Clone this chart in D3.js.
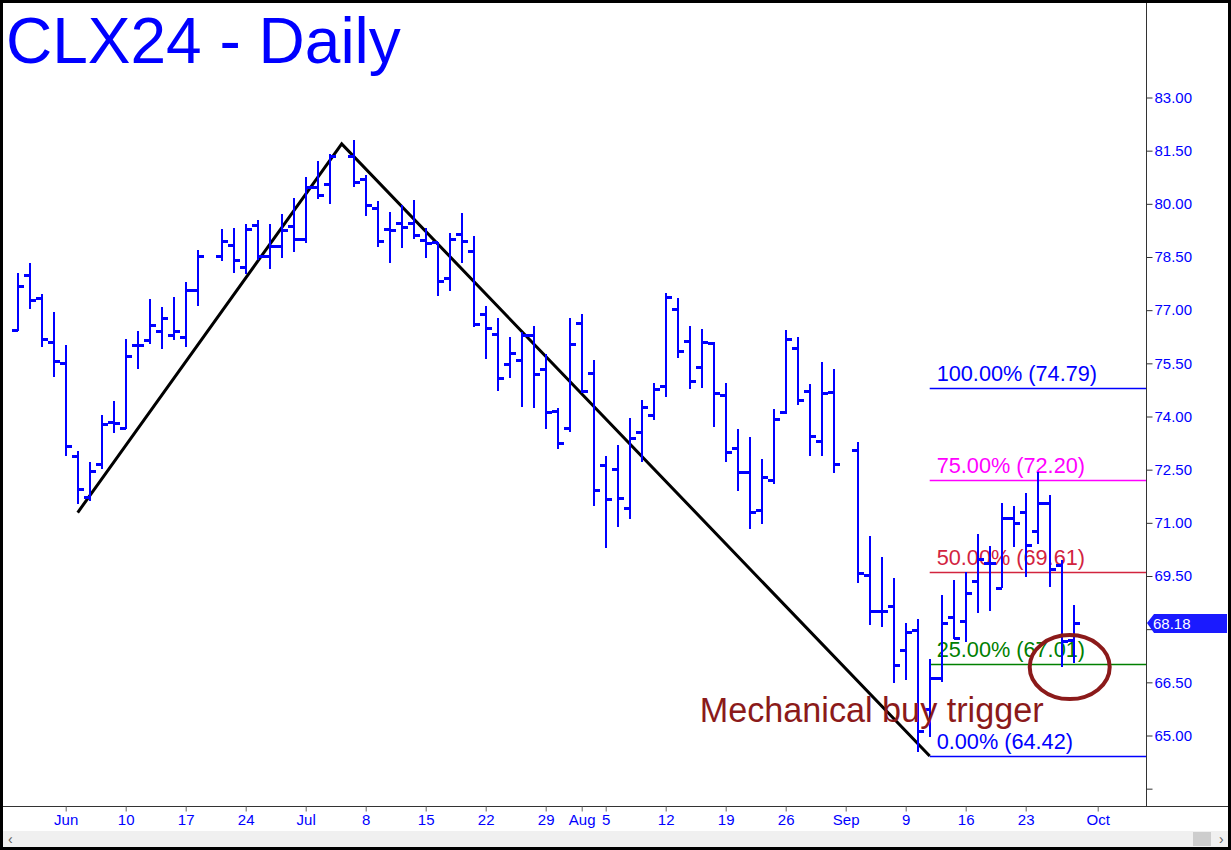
<!DOCTYPE html>
<html><head><meta charset="utf-8">
<script src="https://cdn.jsdelivr.net/npm/d3@7"></script>
<style>body{margin:0;background:#fff;overflow:hidden}svg{display:block}</style>
</head><body>
<script>
// ---------- DATA ----------
const dates = ["2024-05-28","2024-05-29","2024-05-30","2024-05-31","2024-06-03","2024-06-04","2024-06-05","2024-06-06","2024-06-07",
"2024-06-10","2024-06-11","2024-06-12","2024-06-13","2024-06-14","2024-06-17","2024-06-18","2024-06-20","2024-06-21",
"2024-06-24","2024-06-25","2024-06-26","2024-06-27","2024-06-28","2024-07-01","2024-07-02","2024-07-03","2024-07-05",
"2024-07-08","2024-07-09","2024-07-10","2024-07-11","2024-07-12","2024-07-15","2024-07-16","2024-07-17","2024-07-18","2024-07-19",
"2024-07-22","2024-07-23","2024-07-24","2024-07-25","2024-07-26","2024-07-29","2024-07-30","2024-07-31","2024-08-01","2024-08-02",
"2024-08-05","2024-08-06","2024-08-07","2024-08-08","2024-08-09","2024-08-12","2024-08-13","2024-08-14","2024-08-15","2024-08-16",
"2024-08-19","2024-08-20","2024-08-21","2024-08-22","2024-08-23","2024-08-26","2024-08-27","2024-08-28","2024-08-29","2024-08-30",
"2024-09-03","2024-09-04","2024-09-05","2024-09-06","2024-09-09","2024-09-10","2024-09-11","2024-09-12","2024-09-13",
"2024-09-16","2024-09-17","2024-09-18","2024-09-19","2024-09-20","2024-09-23","2024-09-24","2024-09-25","2024-09-26","2024-09-27"];
const openP  = [76.44,77.99,77.33,76.09,75.52,72.88,71.74,72.66,73.85, 73.67,76.02,76.16,76.41,76.31,76.23,77.56,78.52,78.83,
78.23,79.39,78.53,78.82,79.37,79.00,80.48,80.57,81.36, 80.70,79.87,79.28,79.45,79.46,78.98,78.91,77.90,79.14,78.66,
76.89,76.33,75.47,75.59,76.30,75.33,74.15,73.67,76.63,75.22, 72.63,72.51,71.41,73.57,74.04,74.86,77.02,76.13,75.39,76.06,
74.61,73.10,72.44,71.36,72.21,74.13,75.93,74.72,73.31,74.70, 73.05,69.53,68.51,68.66,67.41,67.97,65.74,66.61,68.35,
68.23,69.37,69.86,69.15,71.15,71.30,70.77,71.55,69.80,67.70];
const highP  = [78.05,78.32,77.45,76.94,76.01,73.02,72.72,74.03,74.43, 76.18,76.41,77.31,77.08,77.36,77.80,78.70,79.28,79.33,
79.42,79.54,79.43,79.70,80.16,80.75,81.21,81.40,81.80, 80.80,80.08,79.76,79.97,80.10,79.33,78.92,79.17,79.73,79.10,
77.12,76.77,76.23,76.39,76.54,75.75,74.23,76.77,76.88,75.58, 72.88,73.19,73.97,74.46,74.94,77.48,77.33,76.55,76.47,76.09,
74.94,73.65,73.41,72.79,74.20,76.44,76.23,74.91,75.53,75.33, 73.27,70.63,70.04,69.43,68.18,68.30,67.15,68.96,69.38,
69.62,70.68,70.34,71.55,71.47,71.83,72.44,71.78,69.96,68.68];
const lowP   = [76.42,77.02,75.95,75.12,72.88,71.52,71.62,72.51,73.54, 73.65,75.33,76.04,75.91,76.16,75.95,77.13,78.39,78.04,
78.01,78.41,78.15,78.46,78.63,78.89,80.14,79.99,80.47, 79.67,78.79,78.34,78.74,79.00,78.48,77.41,77.54,78.32,76.52,
75.61,74.72,75.10,74.26,74.23,73.64,73.07,73.57,74.67,71.48, 70.28,70.89,71.12,72.72,73.90,74.56,75.66,74.78,74.81,73.71,
72.72,71.91,70.84,70.96,72.09,74.06,74.32,72.88,72.88,72.42, 69.31,68.12,68.07,66.47,66.56,64.54,64.96,66.52,67.71,
67.65,68.46,68.52,69.15,70.33,69.46,70.40,69.18,66.94,67.05];
const closeP = [77.69,77.28,76.19,75.57,73.17,71.95,72.46,73.80,73.83, 75.70,76.01,76.57,76.78,76.41,77.56,78.52,78.95,78.41,
79.29,78.53,78.82,79.27,79.00,80.48,80.24,81.36,80.61, 79.96,78.95,79.26,79.36,79.11,78.89,77.82,79.00,78.95,76.61,
76.49,75.10,75.79,76.30,75.19,74.12,73.24,76.04,74.72,71.94, 71.66,71.69,73.38,74.27,74.77,77.38,75.85,75.00,76.10,74.65,
72.99,72.44,71.30,72.28,73.93,76.19,74.46,73.45,74.66,72.66, 69.59,68.51,68.51,66.99,67.92,65.12,66.61,68.16,67.74,
69.01,69.97,69.86,71.15,71.00,70.37,71.57,69.70,67.66,68.18];

const yTicks = [83.00,81.50,80.00,78.50,77.00,75.50,74.00,72.50,71.00,69.50,68.00,66.50,65.00,63.50];
// 68.00 sits under the last-price flag, 63.50 is unlabeled in the reference
const yTickLabeled = [83.00,81.50,80.00,78.50,77.00,75.50,74.00,72.50,71.00,69.50,66.50,65.00];
const xTickDates = ["2024-06-03","2024-06-10","2024-06-17","2024-06-24","2024-07-01","2024-07-08","2024-07-15","2024-07-22",
"2024-07-29","2024-08-01","2024-08-05","2024-08-12","2024-08-19","2024-08-26","2024-09-02","2024-09-09","2024-09-16","2024-09-23","2024-10-01"];
const xTickLabels = ["Jun","10","17","24","Jul","8","15","22","29","Aug","5","12","19","26","Sep","9","16","23","Oct"];

const fibLabels = ["100.00%","75.00%","50.00%","25.00%","0.00%"];
const fibValues = [74.79,72.20,69.61,67.01,64.42];
const fibColors = ["#0000ff","#ff00ff","#d2243f","#008000","#0000ff"];
const fibStart = "2024-09-11";

const abcDates  = ["2024-06-04","2024-07-04","2024-09-11"];
const abcValues = [71.29,81.69,64.42];

const lastPrice = 68.18;
const noteText = "Mechanical buy trigger";
const noteAnchor = ["2024-08-15", 65.38];
const circleAnchor = ["2024-09-26", 66.93];
const titleText = "CLX24 - Daily";

// ---------- LAYOUT ----------
const W = 1231, H = 850;
const plotR = 1146, plotB = 806;

function wd(s){
  const base = Date.UTC(2024,5,3);
  const t = Date.parse(s + "T00:00:00Z");
  const days = Math.round((t - base)/864e5);
  const w = Math.floor(days/7), r = days - 7*w;
  return 5*w + Math.min(r,5);
}

const x = d3.scaleLinear().domain([-5.475, 90.025]).range([0, plotR]);
const y = d3.scaleLinear().domain([83, 65]).range([97.5, 735.5]);

const svg = d3.select("body").append("svg").attr("width", W).attr("height", H)
  .style("font-family", "'Liberation Sans', Arial, sans-serif");

svg.append("rect").attr("width", W).attr("height", H).attr("fill", "#fff");

svg.append("defs").append("clipPath").attr("id","plotclip")
  .append("rect").attr("x",0).attr("y",0).attr("width",plotR).attr("height",plotB);

const plot = svg.append("g").attr("clip-path","url(#plotclip)");

// title
svg.append("text").attr("x", 6).attr("y", 63).attr("fill", "#0000ff")
  .attr("font-size", 64).text(titleText);

// fib lines
const fx = x(wd(fibStart));
fibValues.forEach((v,i)=>{
  plot.append("line").attr("x1", fx).attr("x2", plotR)
    .attr("y1", Math.round(y(v))+0.5).attr("y2", Math.round(y(v))+0.5)
    .attr("stroke", fibColors[i]).attr("stroke-width", 1.5);
  plot.append("text").attr("x", fx + 7).attr("y", y(v) - 7)
    .attr("fill", fibColors[i]).attr("font-size", 21.7)
    .text(`${fibLabels[i]} (${v.toFixed(2)})`);
});

// ABC lines
const abc = abcDates.map((d,i)=>[x(wd(d)), y(abcValues[i])]);
plot.append("path").attr("d", d3.line()(abc)).attr("fill","none")
  .attr("stroke","#000").attr("stroke-width",3).attr("stroke-linejoin","miter");

// bars
const bars = plot.append("g").attr("fill","#0000ff");
dates.forEach((d,i)=>{
  const xc = Math.round(x(wd(d)));
  const yh = Math.round(y(highP[i])), yl = Math.round(y(lowP[i]));
  bars.append("rect").attr("x", xc-1).attr("y", yh).attr("width", 2).attr("height", Math.max(1, yl-yh));
  bars.append("rect").attr("x", xc-6).attr("y", Math.round(y(openP[i]))-1).attr("width", 6).attr("height", 3);
  bars.append("rect").attr("x", xc).attr("y", Math.round(y(closeP[i]))-1).attr("width", 6).attr("height", 3);
});

// annotation text & circle
plot.append("text").attr("x", x(wd(noteAnchor[0])) - 2).attr("y", y(noteAnchor[1]))
  .attr("fill", "#8b1a1a").attr("font-size", 34.2).text(noteText);
plot.append("ellipse").attr("cx", x(wd(circleAnchor[0])) + 8).attr("cy", y(circleAnchor[1]))
  .attr("rx", 40).attr("ry", 32).attr("fill","none").attr("stroke","#8b1a1a").attr("stroke-width",4);

// axes lines
svg.append("line").attr("x1", plotR+0.5).attr("x2", plotR+0.5).attr("y1", 0).attr("y2", plotB)
  .attr("stroke", "#333").attr("stroke-width", 1);
svg.append("line").attr("x1", 0).attr("x2", W).attr("y1", plotB+0.5).attr("y2", plotB+0.5)
  .attr("stroke", "#333").attr("stroke-width", 1);

// y axis
const yAxis = d3.axisRight(y).tickValues(yTicks).tickSize(6).tickPadding(2)
  .tickFormat(v => yTickLabeled.includes(v) ? d3.format(".2f")(v) : "");
const gy = svg.append("g").attr("transform", `translate(${plotR+0.5},0)`).call(yAxis);
gy.select(".domain").remove();
gy.selectAll(".tick line").attr("stroke", "#333");
gy.selectAll(".tick text").attr("fill", "#0000ff").attr("font-size", 15)
  .attr("font-family", "'Liberation Sans', Arial, sans-serif");

// last price marker
const yl = Math.round(y(lastPrice));
svg.append("path").attr("d", `M${plotR+1},${yl} L${plotR+8},${yl-9} L1227,${yl-9} L1227,${yl+10} L${plotR+8},${yl+10} Z`)
  .attr("fill", "#1a1aff");
svg.append("text").attr("x", 1153).attr("y", yl+6).attr("fill", "#fff").attr("font-size", 15).text(lastPrice.toFixed(2));

// x axis
const xAxis = d3.axisBottom(x).tickValues(xTickDates.map(wd)).tickSize(5).tickPadding(3)
  .tickFormat((d,i)=>xTickLabels[i]);
const gx = svg.append("g").attr("transform", `translate(0,${plotB+0.5})`).call(xAxis);
gx.select(".domain").remove();
gx.selectAll(".tick line").attr("stroke", "#666");
gx.selectAll(".tick text").attr("fill", "#0000ff").attr("font-size", 15)
  .attr("font-family", "'Liberation Sans Narrow', 'Liberation Sans', Arial, sans-serif");

// scrollbar
svg.append("rect").attr("x", 0).attr("y", 831).attr("width", W).attr("height", 16).attr("fill", "#f0f0f0");
svg.append("rect").attr("x", 1193).attr("y", 832).attr("width", 18).attr("height", 14).attr("fill", "#cdcdcd");
svg.append("text").attr("x", 8).attr("y", 844).attr("fill", "#606060").attr("font-size", 14).text("‹");
svg.append("text").attr("x", 1219).attr("y", 844).attr("fill", "#606060").attr("font-size", 14).text("›");

// frame
svg.append("rect").attr("x", 1.5).attr("y", 1.5).attr("width", W-3).attr("height", H-3)
  .attr("fill", "none").attr("stroke", "#000").attr("stroke-width", 3);
</script>
</body></html>
